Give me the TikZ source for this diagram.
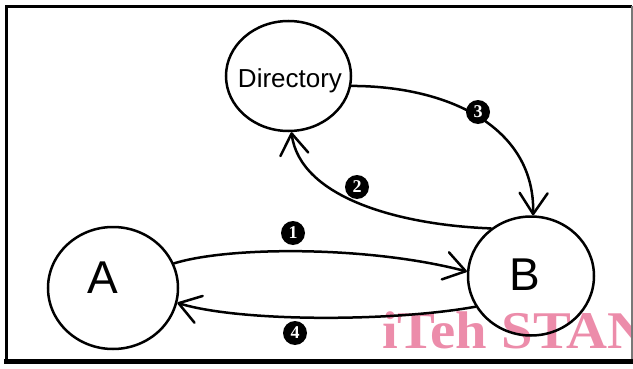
\documentclass[tikz,border=0pt]{standalone}
\usepackage{fontspec}
\setmainfont{Liberation Serif}
\newfontfamily\helv{Liberation Sans}
\usetikzlibrary{arrows.meta,shapes.geometric}
\definecolor{wmpink}{RGB}{236,140,170}
\definecolor{framegray}{RGB}{120,120,120}
\begin{document}
\begin{tikzpicture}[x=1pt,y=1pt,
  state/.style={draw, ellipse, line width=2.5pt, inner sep=0pt},
  conn/.style={line width=2.5pt, line cap=round,
    -{Straight Barb[length=21pt,width=28pt,line width=2.5pt,round]}},
  num/.style={circle, fill=black, text=white, inner sep=0pt, minimum size=24pt,
    font=\bfseries\fontsize{18}{18}\selectfont},
  biglabel/.style={anchor=base, inner sep=0pt, font=\helv\fontsize{46}{46}\selectfont},
  dirlabel/.style={anchor=base, inner sep=0pt, font=\helv\fontsize{26}{26}\selectfont},
]
\useasboundingbox (0,0) rectangle (633,368);
% watermark
\begin{scope}
  \clip (0,0) rectangle (633,368);
  \node[anchor=base west, inner sep=0pt, text=wmpink, xscale=1.07,
        font=\bfseries\fontsize{53}{53}\selectfont] (wm) at (382,20) {iTeh STAN};
\end{scope}
% frame
\draw[line width=3pt] (6,7) -- (6,362) -- (632,362);
\draw[line width=1.2pt, framegray] (632,362) -- (632,7);
\draw[line width=5pt] (4,7) -- (633,7);
% nodes
\node[state, minimum width=130pt, minimum height=122pt] (A) at (113,80) {};
\node[state, minimum width=126pt, minimum height=119pt] (B) at (531,92) {};
\node[state, minimum width=125pt, minimum height=110pt] (D) at (288.5,292) {};
\node[biglabel] (At) at (103,75) {A};
\node[biglabel] (Bt) at (525,78) {B};
\node[dirlabel] (Dt) at (290,281) {Directory};
% connectors
\draw[conn] (A.22) .. controls (230,122) and (370,122) .. (B.176);
\draw[conn] (B.130) .. controls (400,143) and (300,170) .. (D.273);
\draw[conn] (D.-9) .. controls (450,282) and (535,240) .. (B.88);
\draw[conn] (B.209) .. controls (390,46) and (240,46) .. (A.-13);
% step numbers
\node[num] (n1) at (293,135) {1};
\node[num] (n2) at (357,181) {2};
\node[num] (n3) at (478,256) {3};
\node[num] (n4) at (295,35) {4};
\end{tikzpicture}
\end{document}
